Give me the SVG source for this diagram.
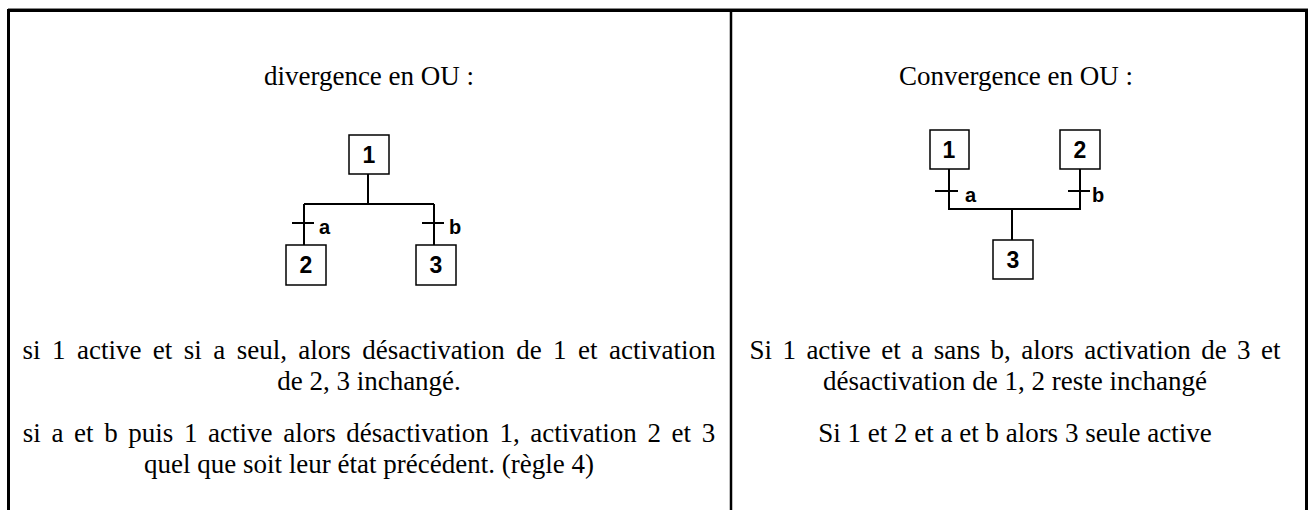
<svg xmlns="http://www.w3.org/2000/svg" width="1312" height="510" viewBox="0 0 1312 510">
<style>
.frame{fill:none;stroke:#000;stroke-width:3}
.div{stroke:#000;stroke-width:2.5}
.step{fill:#fff;stroke:#000;stroke-width:1.5}
.ln{fill:none;stroke:#000;stroke-width:2}
.num{font-family:"Liberation Sans",Arial,sans-serif;font-weight:bold;font-size:23px;text-anchor:middle}
.lbl{font-family:"Liberation Sans",Arial,sans-serif;font-weight:bold;font-size:20px}
.txt{font-family:'Liberation Serif','Times New Roman','DejaVu Serif',serif;font-size:27px;text-anchor:middle;fill:#000}
</style>
<rect width="1312" height="510" fill="#fff"/>
<g id="frame">
<line x1="8" y1="8.5" x2="1308" y2="8.5" stroke="#888" stroke-width="1"/>
<path class="frame" d="M8.5,513 V10.5 H1306.5 V513"/>
<line class="div" x1="731" y1="9" x2="731" y2="510"/>
</g>
<text class="txt" x="369" y="85">divergence en OU :</text>
<text class="txt" x="1016" y="85">Convergence en OU :</text>
<g id="connectors">
<path class="ln" d="M368,174 V204 M304,204 H434 M304,204 V245 M434,204 V245"/>
<path class="ln" d="M292,223 H314 M422,223 H444"/>
<path class="ln" d="M949,169 V209 H1080 V169 M1012,209 V240"/>
<path class="ln" d="M935,191 H958 M1068,191 H1090"/>
</g>
<text class="lbl" x="319" y="234">a</text>
<text class="lbl" x="449" y="234">b</text>
<text class="lbl" x="965" y="202">a</text>
<text class="lbl" x="1092" y="202">b</text>
<g id="L1"><rect class="step" x="349" y="135" width="40" height="39"/><text class="num" x="369" y="163">1</text></g>
<g id="L2"><rect class="step" x="286" y="245" width="40" height="40"/><text class="num" x="306" y="273">2</text></g>
<g id="L3"><rect class="step" x="416" y="245" width="40" height="40"/><text class="num" x="436" y="273">3</text></g>
<g id="R1"><rect class="step" x="930" y="130" width="39" height="39"/><text class="num" x="949" y="158">1</text></g>
<g id="R2"><rect class="step" x="1060" y="130" width="40" height="39"/><text class="num" x="1080" y="158">2</text></g>
<g id="R3"><rect class="step" x="993" y="240" width="40" height="39"/><text class="num" x="1013" y="268">3</text></g>
<text class="txt" x="369" y="359" word-spacing="4.7">si 1 active et si a seul, alors désactivation de 1 et activation</text>
<text class="txt" x="369" y="390">de 2, 3 inchangé.</text>
<text class="txt" x="369" y="442" word-spacing="3.9">si a et b puis 1 active alors désactivation 1, activation 2 et 3</text>
<text class="txt" x="369" y="473">quel que soit leur état précédent. (règle 4)</text>
<text class="txt" x="1015" y="359" word-spacing="3.7">Si 1 active et a sans b, alors activation de 3 et</text>
<text class="txt" x="1015" y="390">désactivation de 1, 2 reste inchangé</text>
<text class="txt" x="1015" y="442">Si 1 et 2 et a et b alors 3 seule active</text>
</svg>
